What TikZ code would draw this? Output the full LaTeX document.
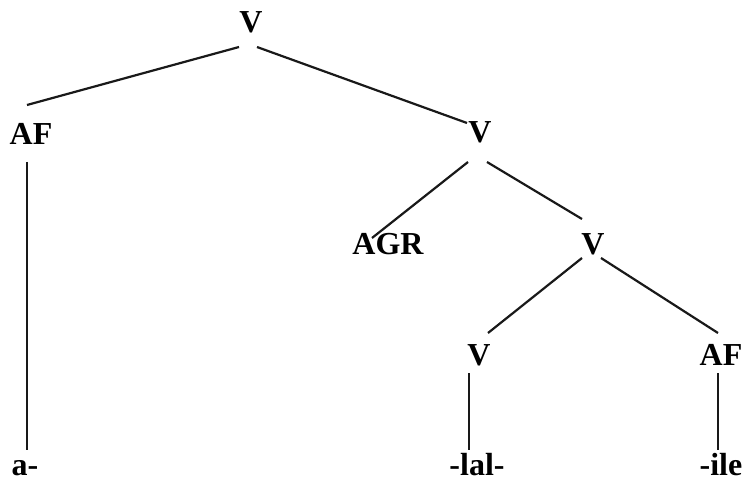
\documentclass[tikz,border=0pt]{standalone}
\usepackage{fontspec}
\setmainfont{Liberation Serif}
\begin{document}
\begin{tikzpicture}[x=1pt,y=-1pt,
  lbl/.style={anchor=base,inner sep=0pt,text depth=0pt,font=\fontsize{32}{38}\selectfont\bfseries},
  edge/.style={line width=2.2pt,black!90}]
\useasboundingbox (0,0) rectangle (744,481);
\node[lbl] (V1) at (251,33) {V};
\node[lbl] (AF1) at (31,145) {AF};
\node[lbl] (V2) at (480,143) {V};
\node[lbl] (AGR) at (388,254) {AGR};
\node[lbl] (V3) at (593,254) {V};
\node[lbl] (V4) at (479,365) {V};
\node[lbl] (AF2) at (721,365) {AF};
\node[lbl] (a) at (25,475) {a-};
\node[lbl] (lal) at (477,475) {-lal-};
\node[lbl] (ile) at (721,475) {-ile};
% edges
\draw[edge] ([xshift=-12pt,yshift=-14pt]V1.base) -- ([xshift=-4pt,yshift=40pt]AF1.base);
\draw[edge] ([xshift=6pt,yshift=-14pt]V1.base) -- ([xshift=-13pt,yshift=20pt]V2.base);
\draw[edge] ([xshift=-12pt,yshift=-19pt]V2.base) -- ([xshift=-16pt,yshift=16pt]AGR.base);
\draw[edge] ([xshift=7pt,yshift=-19pt]V2.base) -- ([xshift=-11pt,yshift=35pt]V3.base);
\draw[edge] ([xshift=-11pt,yshift=-4pt]V3.base) -- ([xshift=9pt,yshift=32pt]V4.base);
\draw[edge] ([xshift=8pt,yshift=-4pt]V3.base) -- ([xshift=-3pt,yshift=32pt]AF2.base);
\draw[edge] ([xshift=-4pt,yshift=-17pt]AF1.base) -- ([xshift=2pt,yshift=25pt]a.base);
\draw[edge] ([xshift=-10pt,yshift=-8pt]V4.base) -- ([xshift=-8pt,yshift=25pt]lal.base);
\draw[edge] ([xshift=-3pt,yshift=-8pt]AF2.base) -- ([xshift=-3pt,yshift=25pt]ile.base);
\end{tikzpicture}
\end{document}
